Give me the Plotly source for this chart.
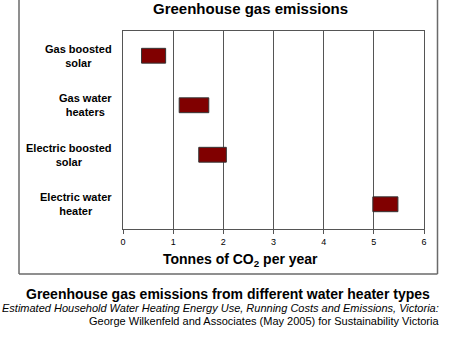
import plotly.graph_objects as go

categories = ["Gas boosted<br>solar", "Gas water<br>heaters", "Electric boosted<br>solar", "Electric water<br>heater"]
low_values = [0.37, 1.12, 1.51, 4.98]
high_values = [0.85, 1.71, 2.06, 5.48]
x_ticks = [0, 1, 2, 3, 4, 5, 6]

W, H = 450, 352
L, R, T, B = 123, 26, 31, 123
PW, PH = W - L - R, H - T - B

def px_x(px):
    return (px - L) / PW

def px_y(py):
    return (H - B - py) / PH

FONT = "Liberation Sans, Arial, sans-serif"

fig = go.Figure()
fig.add_trace(go.Bar(
    y=list(range(len(categories))),
    x=[h - l for l, h in zip(low_values, high_values)],
    base=low_values,
    orientation="h",
    width=0.3,
    marker=dict(color="#800000", line=dict(color="#333333", width=1)),
    hoverinfo="skip",
))

annotations = []
for i, c in enumerate(categories):
    annotations.append(dict(
        text="<b>" + c + "</b>", xref="paper", yref="y", x=px_x(114), y=i,
        xanchor="right", yanchor="middle", align="center", showarrow=False,
        font=dict(family=FONT, size=11, color="#000000"),
    ))

annotations += [
    dict(text="<b>Greenhouse gas emissions</b>", xref="paper", yref="paper",
         x=px_x(250), y=px_y(9), xanchor="center", yanchor="middle", showarrow=False,
         font=dict(family=FONT, size=15, color="#000000")),
    dict(text="<b>Tonnes of CO<sub>2</sub> per year</b>", xref="paper", yref="paper",
         x=px_x(240), y=px_y(260), xanchor="center", yanchor="middle", showarrow=False,
         font=dict(family=FONT, size=14, color="#000000")),
    dict(text="<b>Greenhouse gas emissions from different water heater types</b>", xref="paper", yref="paper",
         x=px_x(228), y=px_y(294), xanchor="center", yanchor="middle", showarrow=False,
         font=dict(family=FONT, size=14, color="#000000")),
    dict(text="<i>Estimated Household Water Heating Energy Use, Running Costs and Emissions, Victoria:</i>",
         xref="paper", yref="paper", x=px_x(441), y=px_y(308), xanchor="right", yanchor="middle",
         showarrow=False, font=dict(family=FONT, size=11, color="#000000")),
    dict(text="George Wilkenfeld and Associates (May 2005) for Sustainability Victoria",
         xref="paper", yref="paper", x=px_x(441), y=px_y(321), xanchor="right", yanchor="middle",
         showarrow=False, font=dict(family=FONT, size=11, color="#000000")),
]

frame_color = "#6a6a6a"
shapes = [
    dict(type="line", xref="paper", yref="paper", x0=px_x(19), x1=px_x(19), y0=px_y(-5), y1=px_y(274),
         line=dict(color=frame_color, width=1.5)),
    dict(type="line", xref="paper", yref="paper", x0=px_x(437.5), x1=px_x(437.5), y0=px_y(-5), y1=px_y(274),
         line=dict(color=frame_color, width=1.5)),
    dict(type="line", xref="paper", yref="paper", x0=px_x(19), x1=px_x(437.5), y0=px_y(274), y1=px_y(274),
         line=dict(color=frame_color, width=1.5)),
]

fig.update_layout(
    width=W, height=H,
    margin=dict(l=L, r=R, t=T, b=B, pad=0),
    paper_bgcolor="white", plot_bgcolor="white",
    showlegend=False,
    annotations=annotations,
    shapes=shapes,
    xaxis=dict(
        range=[0, 6], tickvals=x_ticks, ticktext=[str(t) for t in x_ticks],
        showgrid=True, gridcolor="#555555", gridwidth=1,
        showline=True, linecolor="#555555", linewidth=1, mirror=True,
        ticks="outside", ticklen=4, tickcolor="#555555",
        tickfont=dict(family=FONT, size=9, color="#000000"),
        zeroline=False, fixedrange=True,
    ),
    yaxis=dict(
        range=[len(categories) - 0.5, -0.5],
        showticklabels=False, showgrid=False,
        showline=True, linecolor="#555555", linewidth=1, mirror=True,
        ticks="", zeroline=False, fixedrange=True,
    ),
)

fig.write_html("out.html")
